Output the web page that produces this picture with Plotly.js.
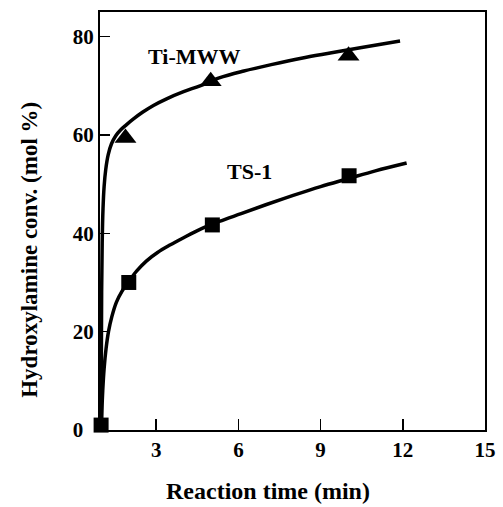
<!DOCTYPE html>
<html>
<head>
<meta charset="utf-8">
<script src="https://cdn.plot.ly/plotly-3.0.1.min.js"></script>
<style>html,body{margin:0;padding:0;background:#fff;}#chart{width:503px;height:507px;}</style>
</head>
<body>
<div id="chart"></div>
<script>
// Measured markers
const tiX = [1.88, 4.99, 10.02];
const tiY = [59.4, 70.9, 76.1];
const tsX = [0.99, 2.0, 5.05, 10.04];
const tsY = [1.0, 30.0, 41.7, 51.7];

// Fitted curves as drawn in the figure
const tiCurveX = [1.0, 1.0, 1.01, 1.03, 1.06, 1.1, 1.16, 1.25, 1.37, 1.52, 1.7, 1.9, 2.16, 2.5, 2.9, 3.4, 4.0, 4.6, 5.3, 6.2, 7.2, 8.3, 9.4, 10.5, 11.9];
const tiCurveY = [0, 15, 28, 38, 45, 49.5, 53, 56, 58.2, 59.8, 61, 62, 63.2, 64.6, 66, 67.4, 68.8, 70, 71.6, 73.0, 74.3, 75.6, 76.7, 77.8, 79.1];
const tsCurveX = [1.0, 1.02, 1.05, 1.1, 1.17, 1.26, 1.38, 1.55, 1.75, 2.0, 2.3, 2.65, 3.05, 3.5, 4.0, 4.6, 5.3, 6.1, 7.0, 8.0, 9.0, 10.0, 11.0, 12.14];
const tsCurveY = [0, 4, 8, 12.5, 16.5, 20, 23, 26, 28.2, 30.2, 32.4, 34.4, 36.1, 37.6, 39.1, 40.8, 42.4, 44.0, 45.8, 47.7, 49.5, 51.1, 52.7, 54.3];

const xTicks = [3, 6, 9, 12, 15];
const yTicks = [0, 20, 40, 60, 80];
const yTickText = ['0\u00a0\u00a0', '20', '40', '60', '80'];
const seriesNames = ['Ti-MWW', 'TS-1'];
const xTitle = 'Reaction time (min)';
const yTitle = 'Hydroxylamine conv. (mol %)';

const fam = 'Liberation Serif, Times New Roman, serif';
const black = '#000';

const traces = [
  {x: tiCurveX, y: tiCurveY, mode: 'lines', line: {color: black, width: 3.5, shape: 'spline', smoothing: 1}, hoverinfo: 'skip', showlegend: false, cliponaxis: false},
  {x: tsCurveX, y: tsCurveY, mode: 'lines', line: {color: black, width: 3.5, shape: 'spline', smoothing: 1}, hoverinfo: 'skip', showlegend: false, cliponaxis: false},
  {x: tiX, y: tiY, name: seriesNames[0], mode: 'markers', marker: {symbol: 'triangle-up', size: 19, color: black}, showlegend: false, cliponaxis: false},
  {x: tsX, y: tsY, name: seriesNames[1], mode: 'markers', marker: {symbol: 'square', size: 15, color: black}, showlegend: false, cliponaxis: false}
];

const layout = {
  width: 503, height: 507,
  margin: {l: 100, r: 18, t: 12, b: 77},
  paper_bgcolor: '#fff', plot_bgcolor: '#fff',
  font: {family: fam, color: black, size: 21, weight: 'bold'},
  showlegend: false,
  xaxis: {
    range: [0.95, 15], tickvals: xTicks, ticktext: xTicks.map(String),
    showline: true, linecolor: black, linewidth: 2, mirror: true,
    ticks: 'inside', ticklen: 11, tickwidth: 1.5, tickcolor: black,
    showgrid: false, zeroline: false,
    tickfont: {family: fam, size: 21, color: black, weight: 'bold'}
  },
  yaxis: {
    range: [0, 85], tickvals: yTicks, ticktext: yTickText,
    showline: true, linecolor: black, linewidth: 2, mirror: true,
    ticks: 'inside', ticklen: 10, tickwidth: 1.5, tickcolor: black,
    showgrid: false, zeroline: false,
    tickfont: {family: fam, size: 21, color: black, weight: 'bold'}
  },
  annotations: [
    {x: 4.38, y: 75.9, xref: 'x', yref: 'y', text: seriesNames[0], showarrow: false, font: {family: fam, size: 22, color: black, weight: 'bold'}},
    {x: 6.42, y: 52.5, xref: 'x', yref: 'y', text: seriesNames[1], showarrow: false, font: {family: fam, size: 22, color: black, weight: 'bold'}},
    {x: 0.436, y: -0.147, xref: 'paper', yref: 'paper', xanchor: 'center', yanchor: 'middle', borderpad: 0, text: xTitle, showarrow: false, font: {family: fam, size: 24, color: black, weight: 'bold'}},
    {x: -0.182, y: 0.431, xref: 'paper', yref: 'paper', xanchor: 'center', yanchor: 'middle', borderpad: 0, textangle: -90, text: yTitle, showarrow: false, font: {family: fam, size: 23, color: black, weight: 'bold'}}
  ]
};

Plotly.newPlot('chart', traces, layout, {displayModeBar: false, staticPlot: true});
</script>
</body>
</html>
